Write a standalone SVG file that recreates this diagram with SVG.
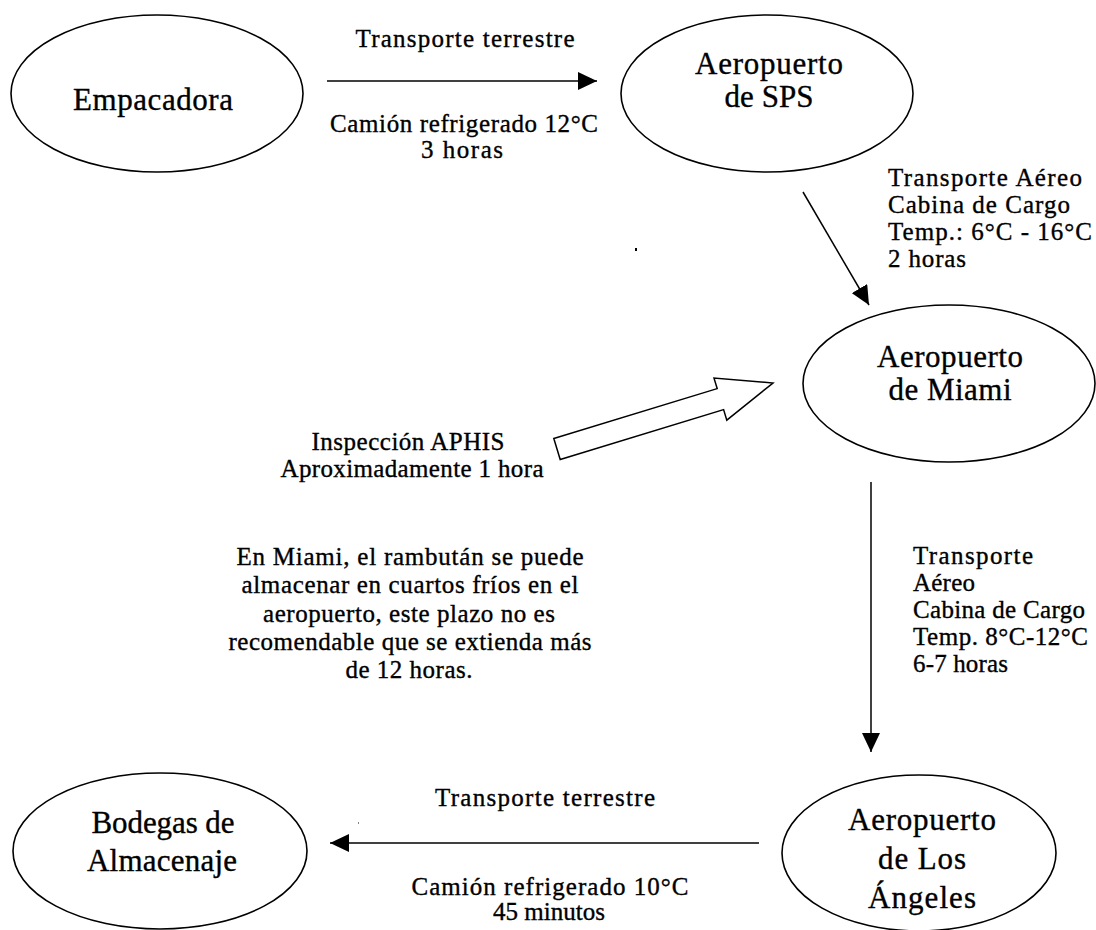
<svg xmlns="http://www.w3.org/2000/svg" width="1096" height="930" viewBox="0 0 1096 930">
<style>
.node ellipse{fill:#fff;stroke:#000;stroke-width:1.6}
.nt{font-family:"Liberation Serif","Times New Roman",serif;font-size:31px;fill:#000;stroke:#000;stroke-width:0.35;text-anchor:middle}
.lb{font-family:"Liberation Serif","Times New Roman",serif;font-size:25px;fill:#000;stroke:#000;stroke-width:0.35}
.c{text-anchor:middle}
.conn line{stroke:#000;stroke-width:1.5}
</style>
<defs>
<marker id="ah" markerUnits="userSpaceOnUse" markerWidth="20" markerHeight="18" refX="19" refY="9" orient="auto">
<path d="M0,0 L19,9 L0,18 z" fill="#000"/>
</marker>
</defs>
<rect width="1096" height="930" fill="#fff"/>

<g id="connectors" class="conn">
<line x1="327" y1="81" x2="597" y2="81" marker-end="url(#ah)"/>
<line x1="803" y1="192" x2="869" y2="305" marker-end="url(#ah)"/>
<line x1="871" y1="482" x2="871" y2="752" marker-end="url(#ah)"/>
<line x1="759" y1="843" x2="330" y2="843" marker-end="url(#ah)"/>
<polygon points="553.8,438.5 717.2,388.6 714,378.1 773,383 726.8,420.1 723.6,409.6 560.2,459.5" fill="#fff" stroke="#000" stroke-width="1.5" stroke-linejoin="miter"/>
</g>

<g id="node-empacadora" class="node">
<ellipse cx="157" cy="93.5" rx="146" ry="78.5"/>
<text class="nt" x="153" y="110" textLength="160" lengthAdjust="spacing">Empacadora</text>
</g>

<g id="node-sps" class="node">
<ellipse cx="767" cy="93.5" rx="146" ry="78.5"/>
<text class="nt" x="769" y="74" textLength="148" lengthAdjust="spacing">Aeropuerto</text>
<text class="nt" x="769" y="107" textLength="89" lengthAdjust="spacing">de SPS</text>
</g>

<g id="node-miami" class="node">
<ellipse cx="949" cy="383.5" rx="146" ry="78.5"/>
<text class="nt" x="950" y="367" textLength="146" lengthAdjust="spacing">Aeropuerto</text>
<text class="nt" x="950" y="400" textLength="123" lengthAdjust="spacing">de Miami</text>
</g>

<g id="node-bodegas" class="node">
<ellipse cx="160" cy="851" rx="147" ry="78"/>
<text class="nt" x="163" y="833" textLength="143" lengthAdjust="spacing">Bodegas de</text>
<text class="nt" x="162" y="871" textLength="150" lengthAdjust="spacing">Almacenaje</text>
</g>

<g id="node-la" class="node">
<ellipse cx="919" cy="853" rx="137" ry="78"/>
<text class="nt" x="922" y="830" textLength="148" lengthAdjust="spacing">Aeropuerto</text>
<text class="nt" x="922" y="869" textLength="88" lengthAdjust="spacing">de Los</text>
<text class="nt" x="922" y="908" textLength="108" lengthAdjust="spacing">Ángeles</text>
</g>

<g id="labels">
<text class="lb c" x="465" y="47" textLength="219" lengthAdjust="spacing">Transporte terrestre</text>
<text class="lb c" x="464" y="132" textLength="268" lengthAdjust="spacing">Camión refrigerado 12°C</text>
<text class="lb c" x="462" y="158" textLength="82" lengthAdjust="spacing">3 horas</text>

<text class="lb" x="888" y="186" textLength="194" lengthAdjust="spacing">Transporte Aéreo</text>
<text class="lb" x="888" y="213" textLength="182" lengthAdjust="spacing">Cabina de Cargo</text>
<text class="lb" x="888" y="240" textLength="204" lengthAdjust="spacing">Temp.: 6°C - 16°C</text>
<text class="lb" x="888" y="267" textLength="78" lengthAdjust="spacing">2 horas</text>

<text class="lb c" x="408" y="450" textLength="193" lengthAdjust="spacing">Inspección APHIS</text>
<text class="lb c" x="412" y="477" textLength="263" lengthAdjust="spacing">Aproximadamente 1 hora</text>

<text class="lb c" x="410" y="565" textLength="347" lengthAdjust="spacing">En Miami, el rambután se puede</text>
<text class="lb c" x="410" y="593" textLength="337" lengthAdjust="spacing">almacenar en cuartos fríos en el</text>
<text class="lb c" x="409" y="622" textLength="292" lengthAdjust="spacing">aeropuerto, este plazo no es</text>
<text class="lb c" x="410" y="650" textLength="363" lengthAdjust="spacing">recomendable que se extienda más</text>
<text class="lb c" x="409" y="678" textLength="127" lengthAdjust="spacing">de 12 horas.</text>

<text class="lb" x="913" y="564" textLength="120" lengthAdjust="spacing">Transporte</text>
<text class="lb" x="913" y="591" textLength="62" lengthAdjust="spacing">Aéreo</text>
<text class="lb" x="913" y="618" textLength="172" lengthAdjust="spacing">Cabina de Cargo</text>
<text class="lb" x="913" y="645" textLength="175" lengthAdjust="spacing">Temp. 8°C-12°C</text>
<text class="lb" x="913" y="672" textLength="95" lengthAdjust="spacing">6-7 horas</text>

<text class="lb c" x="545" y="806" textLength="220" lengthAdjust="spacing">Transporte terrestre</text>
<text class="lb c" x="550" y="895" textLength="277" lengthAdjust="spacing">Camión refrigerado 10°C</text>
<text class="lb c" x="549" y="920" textLength="112" lengthAdjust="spacing">45 minutos</text>
</g>

<rect x="635" y="248" width="2" height="3" fill="#000"/>
<rect x="358" y="822" width="1" height="2" fill="#888"/>
</svg>
